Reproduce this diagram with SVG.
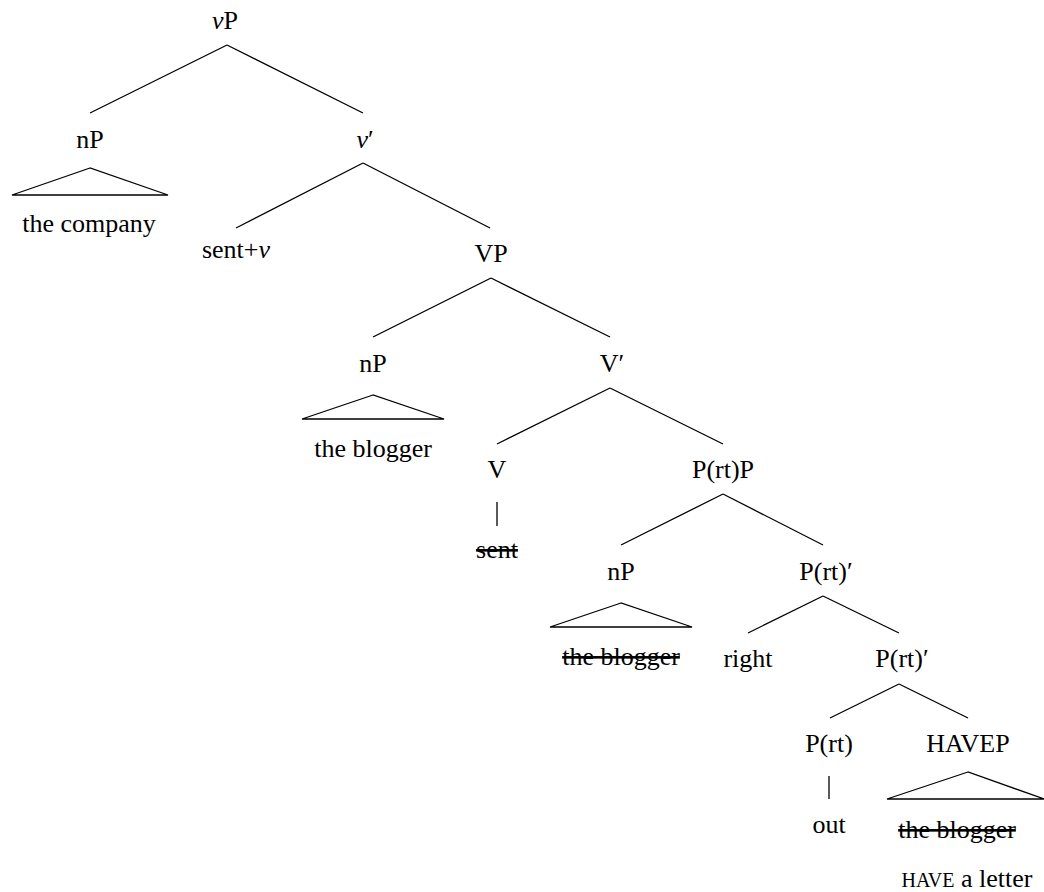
<svg xmlns="http://www.w3.org/2000/svg" width="1044" height="892" viewBox="0 0 1044 892">
  <style>
    text { font-family: "Liberation Serif", "Times New Roman", serif; font-size: 26px; fill: #000; text-anchor: middle; }
    .it { font-style: italic; }
    .sc { font-size: 20px; }
    .del { text-decoration: line-through; }
    .edge { stroke: #000; stroke-width: 1.3; fill: none; }
    .tri { stroke: #000; stroke-width: 1.3; fill: none; stroke-linejoin: miter; }
  </style>
  <rect width="1044" height="892" fill="#fff"/>

  <!-- branches -->
  <g id="connectors" class="edge">
    <line x1="227" y1="45" x2="90" y2="113"/>
    <line x1="227" y1="45" x2="363" y2="113"/>
    <line x1="363" y1="163" x2="236" y2="228"/>
    <line x1="363" y1="163" x2="490" y2="228"/>
    <line x1="491" y1="278" x2="373" y2="337"/>
    <line x1="491" y1="278" x2="610" y2="337"/>
    <line x1="610" y1="388" x2="497" y2="444"/>
    <line x1="610" y1="388" x2="723" y2="444"/>
    <line x1="723" y1="494" x2="621" y2="545"/>
    <line x1="723" y1="494" x2="823" y2="545"/>
    <line x1="823" y1="596" x2="748" y2="633"/>
    <line x1="823" y1="596" x2="899" y2="633"/>
    <line x1="899" y1="684" x2="830" y2="718"/>
    <line x1="899" y1="684" x2="968" y2="718"/>
    <line x1="497" y1="502" x2="497" y2="526"/>
    <line x1="829" y1="776" x2="829" y2="799"/>
  </g>

  <g id="vP"><text x="225" y="29"><tspan class="it">v</tspan>P</text></g>

  <g id="nP-company">
    <text x="90" y="148">nP</text>
    <polygon class="tri" points="90,168 12,195 168,195"/>
    <text x="89" y="232">the company</text>
  </g>

  <g id="v-bar"><text x="365" y="148"><tspan class="it">v</tspan>′</text></g>

  <g id="sent-v"><text x="236" y="258">sent+<tspan class="it">v</tspan></text></g>

  <g id="VP"><text x="491" y="262">VP</text></g>

  <g id="nP-blogger">
    <text x="373" y="372">nP</text>
    <polygon class="tri" points="373,395 302,419 444,419"/>
    <text x="373" y="457">the blogger</text>
  </g>

  <g id="V-bar"><text x="612" y="372">V′</text></g>

  <g id="V">
    <text x="497" y="478">V</text>
    <text x="497" y="558" class="del">sent</text>
  </g>

  <g id="PrtP"><text x="723" y="478">P(rt)P</text></g>

  <g id="nP-blogger-copy">
    <text x="621" y="580">nP</text>
    <polygon class="tri" points="621,603 550,627 692,627"/>
    <text x="621" y="665" class="del">the blogger</text>
  </g>

  <g id="Prt-bar-1"><text x="826" y="580">P(rt)′</text></g>

  <g id="right"><text x="748" y="667">right</text></g>

  <g id="Prt-bar-2"><text x="902" y="667">P(rt)′</text></g>

  <g id="Prt">
    <text x="829" y="752">P(rt)</text>
    <text x="829" y="833">out</text>
  </g>

  <g id="HAVEP">
    <text x="968" y="752">HAVEP</text>
    <polygon class="tri" points="968,772 887,799 1044,799"/>
    <text x="957" y="838" class="del">the blogger</text>
    <text x="967" y="887"><tspan class="sc">HAVE</tspan> a letter</text>
  </g>
</svg>
